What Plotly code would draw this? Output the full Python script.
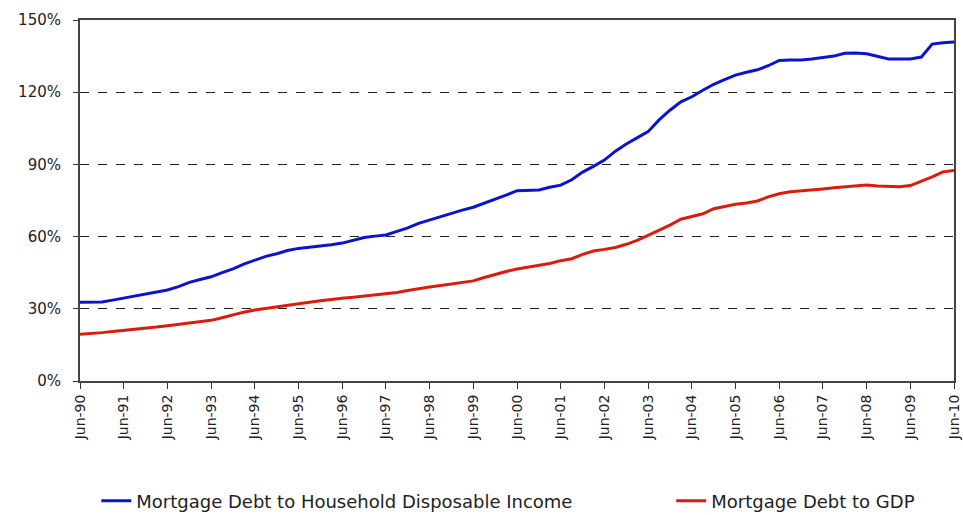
import plotly.graph_objects as go
import pandas as pd

# Quarterly observations, Jun-1990 .. Jun-2010
quarters = pd.date_range("1990-06-01", "2010-06-01", freq="3MS")

debt_to_income = [
    32.7, 32.7, 32.8, 33.6, 34.4, 35.5, 36.3, 37.0, 37.8, 39.2,
    41.0, 42.2, 43.3, 45.0, 46.6, 48.6, 50.3, 51.8, 52.9, 54.2,
    55.1, 55.6, 55.8, 56.6, 57.3, 58.3, 59.6, 60.2, 60.7, 62.2,
    63.6, 65.5, 66.9, 68.3, 69.8, 71.0, 72.2, 73.8, 75.3, 77.2,
    79.1, 79.3, 79.4, 80.5, 81.4, 83.6, 86.8, 89.2, 91.8, 95.5,
    98.5, 101.0, 103.6, 108.5, 112.5, 116.0, 118.1, 120.8, 123.3, 125.2,
    127.1, 128.3, 129.3, 131.0, 133.2, 133.4, 133.4, 133.8, 134.3, 135.0,
    136.2, 136.3, 136.0, 135.0, 133.8, 133.8, 133.8, 134.6, 140.0, 140.5,
    140.9,
]

debt_to_gdp = [
    19.4, 19.7, 20.1, 20.6, 21.0, 21.3, 21.8, 22.4, 23.0, 23.6,
    24.2, 24.7, 25.2, 26.3, 27.6, 28.6, 29.5, 30.2, 30.8, 31.6,
    32.2, 32.7, 33.3, 34.0, 34.4, 34.8, 35.3, 35.6, 36.1, 36.8,
    37.6, 38.4, 39.1, 39.7, 40.3, 40.9, 41.6, 43.0, 44.4, 45.5,
    46.5, 47.3, 48.0, 48.8, 50.0, 50.8, 52.6, 54.0, 54.7, 55.5,
    56.8, 58.4, 60.5, 62.6, 64.8, 67.2, 68.2, 69.5, 71.6, 72.6,
    73.4, 74.0, 74.8, 76.5, 77.8, 78.6, 79.1, 79.4, 79.8, 80.3,
    80.7, 81.0, 81.4, 81.0, 80.7, 80.7, 81.2, 83.0, 84.8, 86.9,
    87.5,
]

tick_dates = pd.date_range("1990-06-01", "2010-06-01", freq="12MS")
tick_labels = [f"Jun-{d.year % 100:02d}" for d in tick_dates]
y_ticks = [0, 30, 60, 90, 120, 150]
y_labels = [f"{v}%" for v in y_ticks]

series_names = ["Mortgage Debt to Household Disposable Income", "Mortgage Debt to GDP"]
series_colors = ["#0A14CC", "#DA1C0E"]
legend_ids = ["legend", "legend2"]

fig = go.Figure()
for name, vals, col, lg in zip(series_names, [debt_to_income, debt_to_gdp], series_colors, legend_ids):
    fig.add_trace(go.Scatter(x=quarters, y=vals, mode="lines", name=name,
                             line=dict(color=col, width=3), legend=lg))

font_family = "DejaVu Sans, Verdana, sans-serif"
legend_common = dict(orientation="h", xref="container", yref="container",
                     yanchor="middle", y=0.027, xanchor="left",
                     font=dict(family=font_family, size=18, color="#222"),
                     bgcolor="rgba(0,0,0,0)", borderwidth=0)

fig.update_layout(
    width=963, height=515,
    margin=dict(l=80, r=9, t=20, b=134, autoexpand=False),
    plot_bgcolor="white", paper_bgcolor="white",
    font=dict(family=font_family, size=14, color="#222"),
    showlegend=True,
    legend=dict(x=0.1, **legend_common),
    legend2=dict(x=0.697, **legend_common),
    xaxis=dict(
        range=[quarters[0], quarters[-1]],
        tickmode="array", tickvals=tick_dates, ticktext=tick_labels,
        tickangle=-90, ticks="outside", ticklen=6, tickcolor="#333",
        tickfont=dict(size=14),
        showgrid=False, showline=True, linecolor="#444", linewidth=2,
        mirror=True, zeroline=False,
    ),
    yaxis=dict(
        range=[0, 150], tickmode="array", tickvals=y_ticks, ticktext=y_labels,
        ticks="outside", ticklen=5, tickcolor="#333", ticklabelstandoff=9,
        tickfont=dict(size=15),
        showgrid=True, gridcolor="#222", griddash="dash", gridwidth=1,
        showline=True, linecolor="#444", linewidth=2, mirror=True,
        zeroline=False,
    ),
)

fig.write_html("out.html")
